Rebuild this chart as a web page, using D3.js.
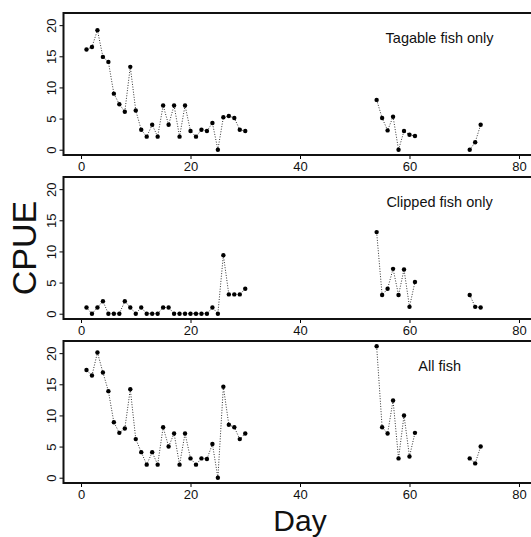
<!DOCTYPE html>
<html>
<head>
<meta charset="utf-8">
<script src="https://cdn.jsdelivr.net/npm/d3@7"></script>
<style>
  body { margin: 0; background: #fff; }
  text { font-family: "Liberation Sans", Arial, sans-serif; fill: #111; }
</style>
</head>
<body>
<script>
// sampling days (three field periods)
const days = [1, 2, 3, 4, 5, 6, 7, 8, 9, 10, 11, 12, 13, 14, 15, 16, 17, 18, 19, 20,
  21, 22, 23, 24, 25, 26, 27, 28, 29, 30, 54, 55, 56, 57, 58, 59, 60, 61, 71, 72, 73];

const tagable = [16.1, 16.5, 19.2, 14.9, 14.1, 9.0, 7.3, 6.1, 13.3, 6.3, 3.2, 2.1, 4.0, 2.1, 7.1,
  4.0, 7.1, 2.1, 7.1, 3.0, 2.1, 3.2, 3.0, 4.3, 0, 5.2, 5.4, 5.1, 3.2, 3.0,
  8.0, 5.1, 3.1, 5.3, 0, 3.0, 2.4, 2.2, 0, 1.2, 4.0];

const clipped = [1, 0, 1, 2, 0, 0, 0, 2, 1, 0, 1, 0, 0, 0, 1, 1, 0, 0, 0, 0,
  0, 0, 0, 1, 0, 9.4, 3.1, 3.1, 3.1, 4.0,
  13.1, 3.0, 4.0, 7.2, 3.0, 7.1, 1.1, 5.1, 3.0, 1.1, 1.0];

const allFish = [17.3, 16.4, 20.1, 16.9, 13.9, 8.9, 7.2, 7.9, 14.2, 6.2, 4.1, 2.1, 4.1, 2.1, 8.1,
  5.0, 7.1, 2.1, 7.1, 3.1, 2.1, 3.1, 3.0, 5.4, 0, 14.6, 8.5, 8.1, 6.2, 7.1,
  21.1, 8.1, 7.1, 12.4, 3.1, 10.0, 3.4, 7.2, 3.1, 2.3, 5.0];

const panelTitles = ['Tagable fish only', 'Clipped fish only', 'All fish'];
const xTicks = [0, 20, 40, 60, 80];
const yTicks = [0, 5, 10, 15, 20];

const W = 531;
const H = 537;
const left = 63.5;
const panelH = 142;
const panelTops = [13, 177, 341];

const svg = d3.select('body')
  .append('svg')
  .attr('width', W)
  .attr('height', H);

const x = d3.scaleLinear()
  .domain([-3.2, 83.2])
  .range([left, left + 473]);

const y = d3.scaleLinear()
  .domain([-0.85, 21.95])
  .range([panelH, 0]);

const series = [tagable, clipped, allFish];

series.forEach((vals, p) => {
  const g = svg.append('g')
    .attr('transform', `translate(0,${panelTops[p]})`);

  // points, with a break wherever days are not consecutive
  const pts = [];
  days.forEach((d, i) => {
    if (i > 0 && d - days[i - 1] > 1) pts.push(null);
    pts.push({ day: d, v: vals[i] });
  });

  const line = d3.line()
    .defined((d) => d !== null)
    .x((d) => x(d.day))
    .y((d) => y(d.v));

  g.append('path')
    .datum(pts)
    .attr('d', line)
    .attr('fill', 'none')
    .attr('stroke', '#333')
    .attr('stroke-width', 1)
    .attr('stroke-dasharray', '1,1.6');

  g.selectAll('.pt')
    .data(days.map((d, i) => ({ day: d, v: vals[i] })))
    .enter().append('circle')
    .attr('class', 'pt')
    .attr('cx', (d) => x(d.day))
    .attr('cy', (d) => y(d.v))
    .attr('r', 2.2)
    .attr('fill', '#000');

  const xAxis = g.append('g')
    .attr('transform', `translate(0,${panelH})`)
    .call(d3.axisBottom(x).tickValues(xTicks).tickSize(4).tickPadding(3).tickSizeOuter(0));
  xAxis.select('.domain').remove();
  xAxis.selectAll('text').style('font-size', '13px');

  const yAxis = g.append('g')
    .attr('transform', `translate(${left},0)`)
    .call(d3.axisLeft(y).tickValues(yTicks).tickSize(4).tickSizeOuter(0));
  yAxis.select('.domain').remove();
  yAxis.selectAll('text')
    .attr('transform', 'rotate(-90)')
    .attr('x', 0)
    .attr('y', -8)
    .attr('dy', 0)
    .style('text-anchor', 'middle')
    .style('font-size', '13px');

  // frame
  g.append('rect')
    .attr('x', left)
    .attr('y', 0)
    .attr('width', 480)
    .attr('height', panelH)
    .attr('fill', 'none')
    .attr('stroke', '#111')
    .attr('stroke-width', 2);

  g.append('text')
    .attr('x', x(65.5))
    .attr('y', y(18))
    .attr('dy', '0.35em')
    .attr('text-anchor', 'middle')
    .style('font-size', '14.5px')
    .text(panelTitles[p]);
});

svg.append('text')
  .attr('x', x(40))
  .attr('y', 531)
  .attr('text-anchor', 'middle')
  .style('font-size', '30px')
  .text('Day');

svg.append('text')
  .attr('transform', `translate(36,${panelTops[1] + panelH / 2}) rotate(-90)`)
  .attr('text-anchor', 'middle')
  .style('font-size', '34px')
  .text('CPUE');
</script>
</body>
</html>
